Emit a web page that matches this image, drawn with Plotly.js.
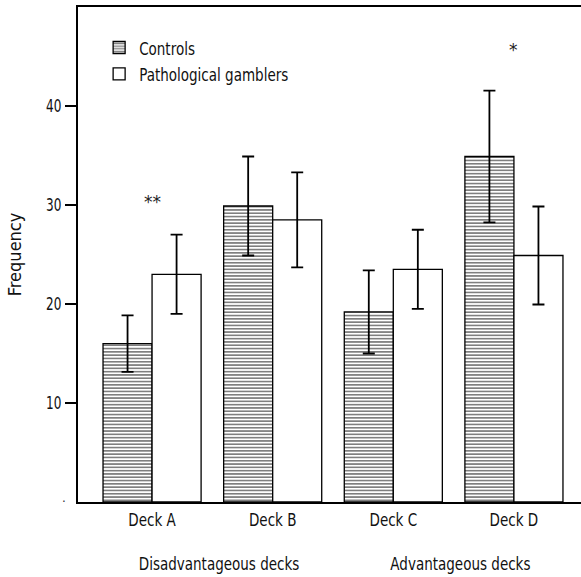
<!DOCTYPE html>
<html>
<head>
<meta charset="utf-8">
<script src="https://cdn.plot.ly/plotly-3.0.1.min.js"></script>
<style>html,body{margin:0;padding:0;background:#fff;}#chart{width:581px;height:577px;}</style>
</head>
<body>
<div id="chart"></div>
<script>
const decks = ["Deck A", "Deck B", "Deck C", "Deck D"];
const seriesNames = ["Controls", "Pathological gamblers"];
const controls = [16.0, 29.9, 19.2, 34.9];
const controlsErr = [2.85, 5.0, 4.2, 6.65];
const gamblers = [23.0, 28.5, 23.5, 24.9];
const gamblersErr = [4.0, 4.8, 4.0, 4.95];
const yTicks = [10, 20, 30, 40];
const groupLabels = ["Disadvantageous decks", "Advantageous decks"];
const groupCenters = [0.5, 2.5];
const sigMarks = ["**", "*"];
const sigDeck = ["Deck A", "Deck D"];
const sigY = [30.3, 45.7];

const FONT = "DejaVu Sans, sans-serif";

const traces = [
  {
    type: "bar", name: seriesNames[0], x: decks, y: controls,
    marker: {color: "#ffffff", line: {color: "#000", width: 1.3},
      pattern: {shape: "-", size: 3.3, solidity: 0.5, fgcolor: "#000", bgcolor: "#ffffff", fillmode: "overlay"}},
    error_y: {type: "data", array: controlsErr, visible: true, color: "#000", thickness: 1.8, width: 6}
  },
  {
    type: "bar", name: seriesNames[1], x: decks, y: gamblers,
    marker: {color: "#ffffff", line: {color: "#000", width: 1.3}},
    error_y: {type: "data", array: gamblersErr, visible: true, color: "#000", thickness: 1.8, width: 6}
  }
];

const annotations = [];
groupLabels.forEach((t, i) => annotations.push({
  text: t, x: groupCenters[i], xref: "x", y: 0, yref: "paper", yanchor: "top",
  yshift: -49, xshift: 7, showarrow: false, font: {family: FONT, size: 18, color: "#111"}
}));
sigMarks.forEach((t, i) => annotations.push({
  text: t, x: sigDeck[i], xref: "x", y: sigY[i], yref: "y", showarrow: false,
  font: {family: FONT, size: 17, color: "#222"}
}));
annotations.push({text: ".", x: 0, xref: "paper", y: 0, yref: "y", xanchor: "right",
  xshift: -10, yshift: 4, showarrow: false, font: {family: FONT, size: 12, color: "#333"}});

const layout = {
  width: 581, height: 577,
  margin: {l: 78, r: 0, t: 7, b: 75, autoexpand: false},
  paper_bgcolor: "#fff", plot_bgcolor: "#fff",
  font: {family: FONT, size: 18, color: "#111"},
  barmode: "group", bargap: 0.187, bargroupgap: 0,
  showlegend: true,
  legend: {x: 0.042, y: 0.955, xanchor: "left", yanchor: "top", bgcolor: "rgba(0,0,0,0)",
    font: {family: FONT, size: 18, color: "#111"}, traceorder: "normal"},
  xaxis: {range: [-0.614, 3.556], showline: true, mirror: true, linecolor: "#000", linewidth: 2,
    ticks: "", showgrid: false, zeroline: false, fixedrange: true, automargin: false,
    tickfont: {family: FONT, size: 18, color: "#111"}},
  yaxis: {range: [0, 50], showline: true, linecolor: "#000", linewidth: 2, automargin: false,
    ticks: "outside", ticklen: 11, tickwidth: 1.5, tickcolor: "#000",
    tickvals: yTicks, ticktext: yTicks.map(String), showgrid: false, zeroline: false,
    title: {text: "Frequency", font: {family: FONT, size: 18, color: "#111"}, standoff: 12},
    tickfont: {family: FONT, size: 18, color: "#111"}},
  annotations: annotations
};

// The reference uses a condensed face; no condensed font is installed,
// so the rendered text glyphs are narrowed horizontally (text stays real text).
function condense() {
  document.querySelectorAll("#chart svg text").forEach(t => {
    if (t.hasAttribute("textLength")) return;
    const s = (t.textContent || "").trim();
    if (!s || /^\*+$/.test(s) || s === ".") return;
    let f = 0.75;
    if (t.closest(".ytick")) f = 0.67;
    else if (t.classList.contains("ytitle")) f = 0.9;
    const L = t.getComputedTextLength();
    if (L > 0) {
      t.setAttribute("textLength", (L * f).toFixed(2));
      t.setAttribute("lengthAdjust", "spacingAndGlyphs");
    }
  });
}

const gd = document.getElementById("chart");
Plotly.newPlot(gd, traces, layout, {staticPlot: true, displayModeBar: false}).then(() => {
  condense();
  gd.on("plotly_afterplot", condense);
});
</script>
</body>
</html>
